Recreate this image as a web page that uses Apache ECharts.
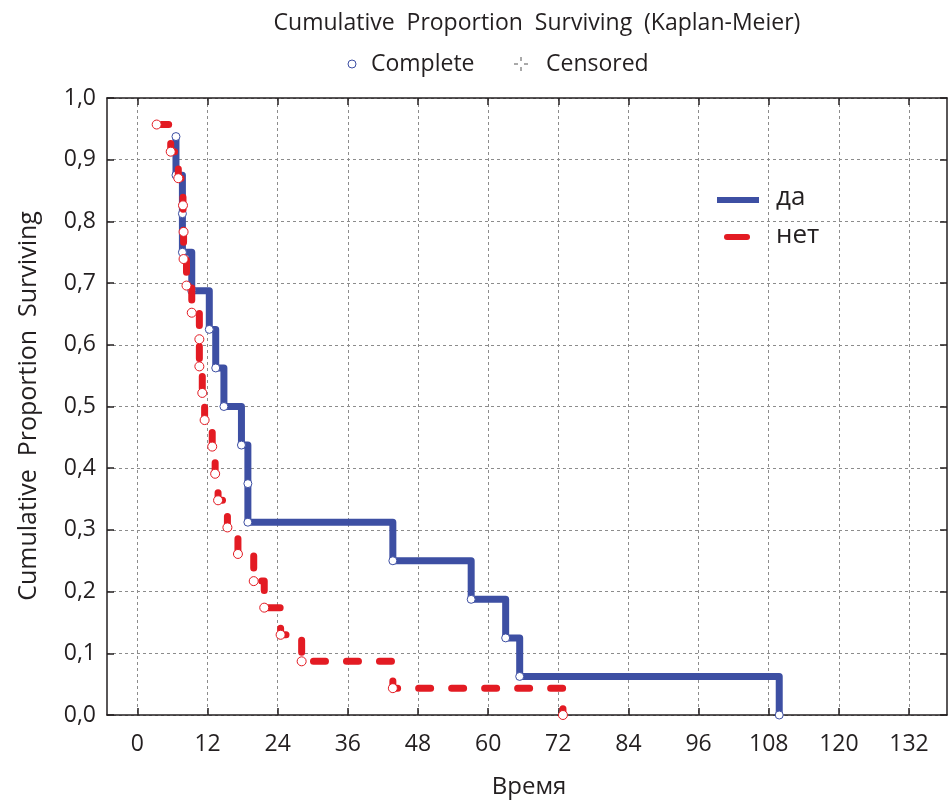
<!DOCTYPE html>
<html><head><meta charset="utf-8">
<script src="https://cdn.jsdelivr.net/npm/echarts@6/dist/echarts.min.js"></script>
<style>html,body{margin:0;padding:0;background:#fff}#c{width:949px;height:805px}</style>
</head><body><div id="c"></div>
<script>
// Tick labels
const xTicks = [0, 12, 24, 36, 48, 60, 72, 84, 96, 108, 120, 132];
// Series "да" (event times, cumulative proportion surviving)
const yesTimes = [6.6, 6.6, 7.7, 7.7, 9.3, 12.3, 13.4, 14.8, 17.8, 18.9, 18.9, 43.7, 57.1, 63.0, 65.4, 109.8];
const yesSurv  = [0.9375, 0.875, 0.8125, 0.75, 0.6875, 0.625, 0.5625, 0.5, 0.4375, 0.375, 0.3125, 0.25, 0.1875, 0.125, 0.0625, 0];
// Series "нет"
const noTimes = [3.3, 5.7, 7.0, 7.8, 7.9, 7.9, 8.4, 9.3, 10.6, 10.6, 11.1, 11.5, 12.8, 13.3, 13.8, 15.4, 17.2, 19.9, 21.7, 24.5, 28.1, 43.7, 72.8];
const noSurv  = [0.957, 0.913, 0.870, 0.826, 0.783, 0.739, 0.696, 0.652, 0.609, 0.565, 0.522, 0.478, 0.435, 0.391, 0.348, 0.304, 0.261, 0.217, 0.174, 0.130, 0.087, 0.0435, 0];

const BLUE = '#3d4fa3';
const RED = '#e31b23';
const FONT = 'Open Sans';
const TXT = '#231f20';

const chart = echarts.init(document.getElementById('c'), null, {renderer: 'canvas'});
const gridLine = {show: true, lineStyle: {color: '#8c8c8c', type: [3, 3], width: 1}};
const axisLine = {show: true, onZero: false, lineStyle: {color: '#231f20', width: 1.5}};
const tick = {show: true, inside: true, length: 7, lineStyle: {color: '#231f20', width: 1.5}};

chart.setOption({
  animation: false,
  backgroundColor: '#fff',
  grid: {left: 107, right: 2, top: 98, bottom: 90, containLabel: false},
  xAxis: [{
    type: 'value', min: -5.2, max: 138.5, position: 'bottom',
    axisLine: axisLine,
    axisTick: Object.assign({customValues: xTicks}, tick),
    axisLabel: {customValues: xTicks, color: TXT, fontFamily: FONT, fontSize: 23, margin: 18},
    splitLine: gridLine
  }, {
    type: 'value', min: -5.2, max: 138.5, position: 'top',
    axisLine: axisLine,
    axisTick: Object.assign({customValues: xTicks}, tick),
    axisLabel: {show: false, customValues: xTicks},
    splitLine: {show: false}
  }],
  yAxis: [{
    type: 'value', min: 0, max: 1, interval: 0.1, position: 'left',
    axisLine: axisLine,
    axisTick: tick,
    axisLabel: {color: TXT, fontFamily: FONT, fontSize: 23, margin: 11,
      formatter: v => v.toFixed(1).replace('.', ',')},
    splitLine: gridLine
  }, {
    type: 'value', min: 0, max: 1, interval: 0.1, position: 'right',
    axisLine: axisLine,
    axisTick: tick,
    axisLabel: {show: false},
    splitLine: {show: false}
  }],
  series: [{
    name: 'да', type: 'line', step: 'end', xAxisIndex: 0, yAxisIndex: 0,
    data: yesTimes.map((t, i) => [t, yesSurv[i]]),
    lineStyle: {color: BLUE, width: 7, cap: 'round', join: 'round'},
    symbol: 'circle', symbolSize: 8, showSymbol: true,
    itemStyle: {color: '#fff', borderColor: BLUE, borderWidth: 1},
    z: 2
  }, {
    name: 'нет', type: 'line', step: 'end', xAxisIndex: 0, yAxisIndex: 0,
    data: noTimes.map((t, i) => [t, noSurv[i]]),
    lineStyle: {color: RED, width: 7, type: [12, 21], cap: 'round', join: 'round'},
    symbol: 'circle', symbolSize: 9, showSymbol: true,
    itemStyle: {color: '#fff', borderColor: RED, borderWidth: 1},
    z: 3
  }],
  graphic: [
    {type: 'text', x: 537, y: 23, style: {text: 'Cumulative  Proportion  Surviving  (Kaplan-Meier)', fill: TXT, font: '23px "' + FONT + '"', align: 'center', verticalAlign: 'middle'}},
    {type: 'circle', shape: {cx: 352, cy: 64, r: 4}, style: {fill: '#fff', stroke: BLUE, lineWidth: 1}},
    {type: 'text', x: 371, y: 64, style: {text: 'Complete', fill: TXT, font: '23px "' + FONT + '"', align: 'left', verticalAlign: 'middle'}},
    {type: 'line', shape: {x1: 514, y1: 64, x2: 518, y2: 64}, style: {stroke: '#555', lineWidth: 1}},
    {type: 'line', shape: {x1: 524, y1: 64, x2: 528, y2: 64}, style: {stroke: '#555', lineWidth: 1}},
    {type: 'line', shape: {x1: 521, y1: 57, x2: 521, y2: 61}, style: {stroke: '#555', lineWidth: 1}},
    {type: 'line', shape: {x1: 521, y1: 67, x2: 521, y2: 71}, style: {stroke: '#555', lineWidth: 1}},
    {type: 'text', x: 546, y: 64, style: {text: 'Censored', fill: TXT, font: '23px "' + FONT + '"', align: 'left', verticalAlign: 'middle'}},
    {type: 'line', shape: {x1: 717, y1: 200, x2: 759, y2: 200}, style: {stroke: BLUE, lineWidth: 6, lineCap: 'butt'}},
    {type: 'text', x: 776, y: 198, style: {text: 'да', fill: TXT, font: '26px "' + FONT + '"', align: 'left', verticalAlign: 'middle'}},
    {type: 'line', shape: {x1: 727, y1: 237, x2: 747, y2: 237}, style: {stroke: RED, lineWidth: 6, lineCap: 'round'}},
    {type: 'text', x: 776, y: 236, style: {text: 'нет', fill: TXT, font: '26px "' + FONT + '"', align: 'left', verticalAlign: 'middle'}},
    {type: 'text', x: 29, y: 406, rotation: Math.PI / 2, style: {text: 'Cumulative  Proportion  Surviving', fill: TXT, font: '25px "' + FONT + '"', align: 'center', verticalAlign: 'middle'}},
    {type: 'text', x: 529, y: 787, style: {text: 'Время', fill: TXT, font: '24px "' + FONT + '"', align: 'center', verticalAlign: 'middle'}}
  ]
});
</script>
</body></html>
